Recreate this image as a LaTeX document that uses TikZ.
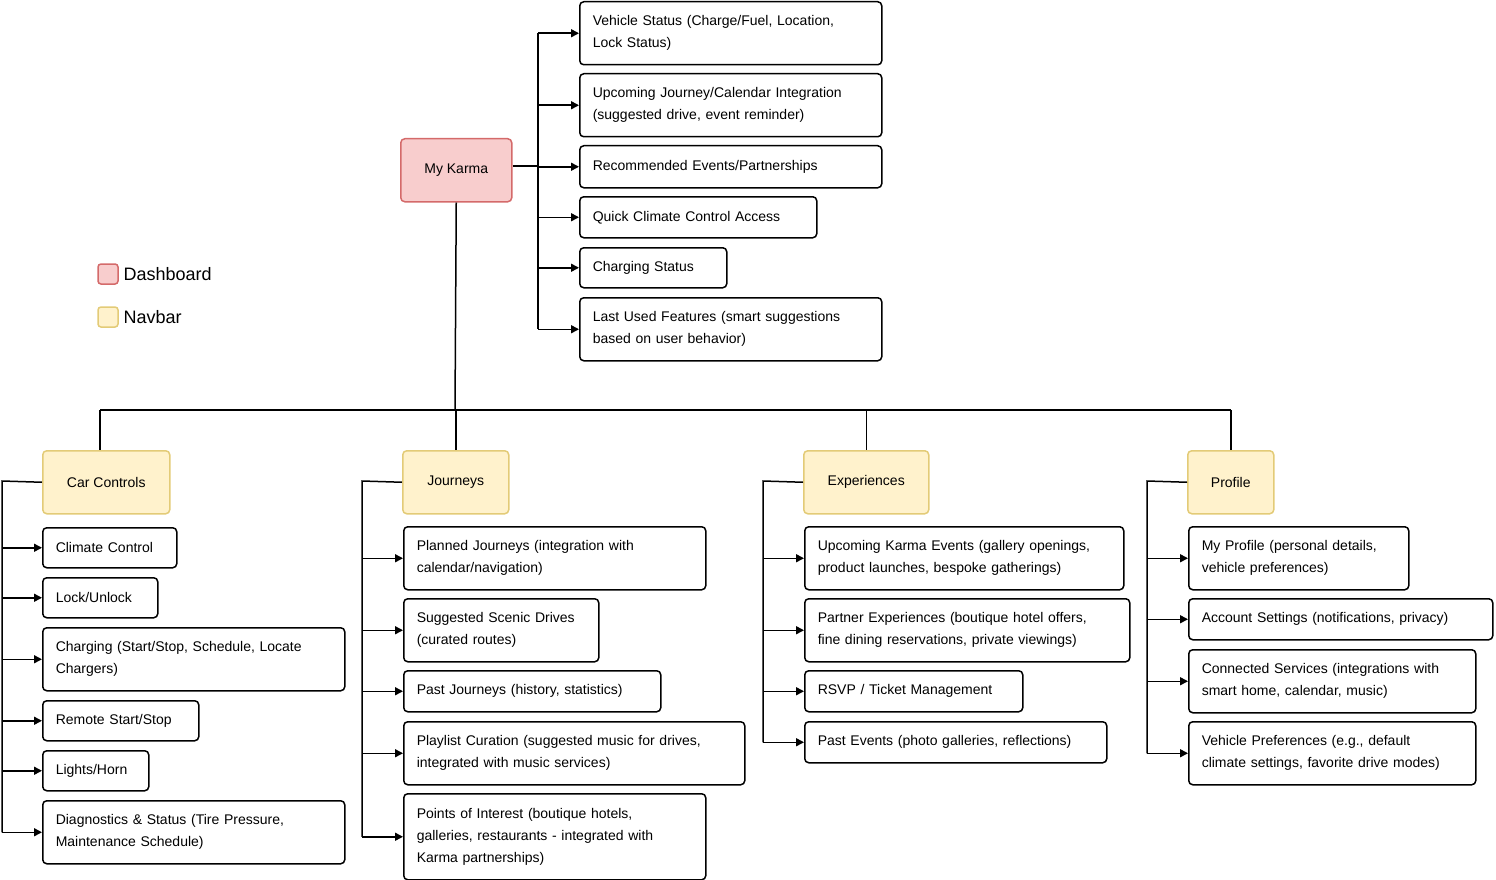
\documentclass[tikz,border=0pt]{standalone}
\usepackage{fontspec}
\setmainfont{Liberation Sans}
\usetikzlibrary{arrows.meta}
\definecolor{dashfill}{HTML}{F8CDCD}
\definecolor{dashline}{HTML}{D46A6A}
\definecolor{navfill}{HTML}{FFF2CC}
\definecolor{navline}{HTML}{E3CB77}
\tikzset{
  card/.style={draw, line width=1.5pt, rounded corners=4pt, anchor=north west,
    inner xsep=13pt, inner ysep=0pt, align=left, text width=#1,
    font=\fontsize{14}{22}\selectfont},
  board/.style={draw=dashline, fill=dashfill, line width=1.5pt, rounded corners=4pt,
    anchor=north west, align=center, font=\fontsize{14}{22}\selectfont},
  nav/.style={draw=navline, fill=navfill, line width=1.5pt, rounded corners=4pt,
    anchor=north west, align=center, font=\fontsize{14}{22}\selectfont},
  link/.style={line width=1.5pt},
  arr/.style={line width=1.5pt, -{Triangle[length=8pt,width=8pt]}},
  key/.style={rounded corners=3pt, line width=1.5pt, minimum size=20pt, inner sep=0pt},
}
\begin{document}
\begin{tikzpicture}[x=1pt,y=-1pt]
\useasboundingbox (0,0) rectangle (1496,880);

% legend
\node[key, draw=dashline, fill=dashfill] (kdash) at (108,274) {};
\node[anchor=west, font=\fontsize{18}{22}\selectfont] (tdash) at (120,274) {Dashboard};
\node[key, draw=navline, fill=navfill] (knav) at (108,317) {};
\node[anchor=west, font=\fontsize{18}{22}\selectfont] (tnav) at (120,317) {Navbar};

% dashboard
\node[board, minimum width=111pt, minimum height=63pt] (karma) at (400,138) {My Karma};

\node[card=276pt, minimum height=63pt] (vs) at (579,1) {Vehicle Status (Charge/Fuel, Location,\\Lock Status)};
\node[card=276pt, minimum height=63pt] (uj) at (579,73) {Upcoming Journey/Calendar Integration\\(suggested drive, event reminder)};
\node[card=276pt, minimum height=42pt] (re) at (579,145) {Recommended Events/Partnerships};
\node[card=211pt, minimum height=41pt] (qc) at (579,196) {Quick Climate Control Access};
\node[card=121pt, minimum height=40pt] (cs) at (579,247) {Charging Status};
\node[card=276pt, minimum height=63pt] (lu) at (579,297) {Last Used Features (smart suggestions\\based on user behavior)};

\coordinate (rt) at (538,33);
\draw[link] (karma.east |- 0,166) -- (rt |- 0,166);
\draw[link] (rt |- vs.west) -- (rt |- lu.west);
\foreach \n in {vs,uj,re,qc,cs,lu}
  \draw[arr] (rt |- \n.west) -- (\n.west);

% navbar
\node[nav, minimum width=127pt, minimum height=63pt] (car) at (42,450) {Car Controls};
\node[nav, minimum width=106pt, minimum height=63pt] (jou) at (402,450) {Journeys};
\node[nav, minimum width=125pt, minimum height=63pt] (exp) at (803,450) {Experiences};
\node[nav, minimum width=86pt, minimum height=63pt] (pro) at (1187,450) {Profile};

\coordinate (bus) at (455,410);
\draw[link] (karma.south) -- (bus);
\draw[link] (bus -| 100,0) -- (bus -| pro.north);
\draw[link] (bus -| 100,0) -- (car.north -| 100,0);
\foreach \n in {jou,exp,pro}
  \draw[link] (bus -| \n.north) -- (\n.north);

% car controls
\node[card=108pt, minimum height=40pt] (cc1) at (42,527) {Climate Control};
\node[card=89pt, minimum height=40pt] (cc2) at (42,577) {Lock/Unlock};
\node[card=276pt, minimum height=63pt] (cc3) at (42,627) {Charging (Start/Stop, Schedule, Locate\\Chargers)};
\node[card=130pt, minimum height=40pt] (cc4) at (42,700) {Remote Start/Stop};
\node[card=80pt, minimum height=40pt] (cc5) at (42,750) {Lights/Horn};
\node[card=276pt, minimum height=63pt] (cc6) at (42,800) {Diagnostics \& Status (Tire Pressure,\\Maintenance Schedule)};
\coordinate (ct) at (2,481);
\draw[link] (car.west) -- (ct) -- (ct |- cc6.west);
\foreach \n in {cc1,cc2,cc3,cc4,cc5,cc6}
  \draw[arr] (ct |- \n.west) -- (\n.west);

% journeys
\node[card=276pt, minimum height=63pt] (jo1) at (403,526) {Planned Journeys (integration with\\calendar/navigation)};
\node[card=169pt, minimum height=63pt] (jo2) at (403,598) {Suggested Scenic Drives\\(curated routes)};
\node[card=231pt, minimum height=41pt] (jo3) at (403,670) {Past Journeys (history, statistics)};
\node[card=315pt, minimum height=63pt] (jo4) at (403,721) {Playlist Curation (suggested music for drives,\\integrated with music services)};
\node[card=276pt, minimum height=86pt] (jo5) at (403,793) {Points of Interest (boutique hotels,\\galleries, restaurants - integrated with\\Karma partnerships)};
\coordinate (jt) at (362,481);
\draw[link] (jou.west) -- (jt) -- (jt |- jo5.west);
\foreach \n in {jo1,jo2,jo3,jo4,jo5}
  \draw[arr] (jt |- \n.west) -- (\n.west);

% experiences
\node[card=293pt, minimum height=63pt] (ex1) at (804,526) {Upcoming Karma Events (gallery openings,\\product launches, bespoke gatherings)};
\node[card=299pt, minimum height=63pt] (ex2) at (804,598) {Partner Experiences (boutique hotel offers,\\fine dining reservations, private viewings)};
\node[card=192pt, minimum height=41pt] (ex3) at (804,670) {RSVP / Ticket Management};
\node[card=276pt, minimum height=41pt] (ex4) at (804,721) {Past Events (photo galleries, reflections)};
\coordinate (et) at (763,481);
\draw[link] (exp.west) -- (et) -- (et |- ex4.west);
\foreach \n in {ex1,ex2,ex3,ex4}
  \draw[arr] (et |- \n.west) -- (\n.west);

% profile
\node[card=194pt, minimum height=63pt] (pr1) at (1188,526) {My Profile (personal details,\\vehicle preferences)};
\node[card=278pt, minimum height=41pt] (pr2) at (1188,598) {Account Settings (notifications, privacy)};
\node[card=261pt, minimum height=63pt] (pr3) at (1188,649) {Connected Services (integrations with\\smart home, calendar, music)};
\node[card=261pt, minimum height=63pt] (pr4) at (1188,721) {Vehicle Preferences (e.g., default\\climate settings, favorite drive modes)};
\coordinate (pt) at (1147,481);
\draw[link] (pro.west) -- (pt) -- (pt |- pr4.west);
\foreach \n in {pr1,pr2,pr3,pr4}
  \draw[arr] (pt |- \n.west) -- (\n.west);
\end{tikzpicture}
\end{document}
